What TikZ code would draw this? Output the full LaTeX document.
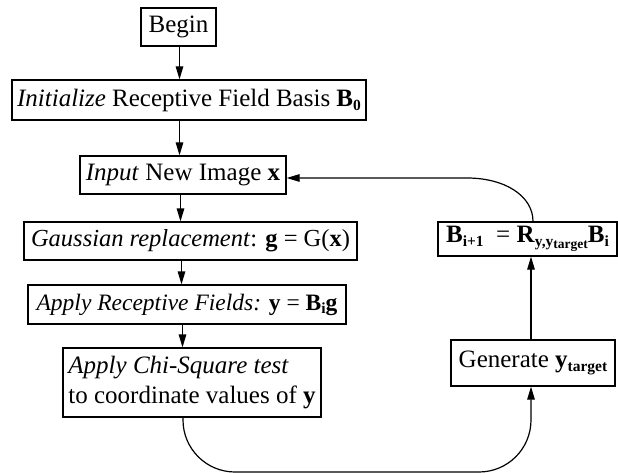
\documentclass[tikz,border=0pt]{standalone}
\usepackage{fontspec}
\setmainfont{Liberation Serif}
\usetikzlibrary{arrows.meta}
\newcommand{\lowsub}[1]{\raisebox{-0.35ex}{\fontsize{15.5}{15.5}\selectfont\bfseries #1}}
\newcommand{\lowsubb}[1]{\raisebox{-0.3ex}{\fontsize{13.5}{13.5}\selectfont\bfseries #1}}
\begin{document}
\begin{tikzpicture}[x=1pt,y=-1pt,
  box/.style={draw, line width=1.2pt, inner sep=0pt, align=center, font=\fontsize{25}{28}\selectfont},
  arr/.style={line width=1.2pt, -{Triangle[length=13pt,width=7.5pt]}}]
\useasboundingbox (0,0) rectangle (618,473);
\node[box, minimum width=75pt, minimum height=38pt] (begin) at (178.5,27) {Begin};
\node[box, minimum width=354pt, minimum height=40pt] (init) at (189,100) {\textit{Initialize} Receptive Field Basis \textbf{B}\lowsub{0}};
\node[box, minimum width=206pt, minimum height=38pt] (input) at (183,175) {\textit{Input} New Image \textbf{x}};
\node[box, minimum width=333pt, minimum height=38pt, font=\fontsize{24.5}{28}\selectfont] (gauss) at (190.5,241) {\textit{Gaussian replacement}: \textbf{g} = G(\textbf{x})};
\node[box, minimum width=318pt, minimum height=39pt, font=\fontsize{23.5}{28}\selectfont] (apply) at (187,304.5) {\textit{Apply Receptive Fields:} \textbf{y} = \textbf{B}\lowsub{i}\textbf{g}};
\node[box, minimum width=258pt, minimum height=69pt, align=left, font=\fontsize{25}{30}\selectfont] (chi) at (192,382.5) {\textit{Apply Chi-Square test}\\to coordinate values of \textbf{y}};
\node[box, minimum width=179pt, minimum height=34pt] (upd) at (527.5,239) {\textbf{B}\lowsub{i+1}\ \ = \textbf{R}\lowsub{y,y\lowsubb{target}}\textbf{B}\lowsub{i}};
\node[box, minimum width=164pt, minimum height=46pt] (gen) at (533,363) {Generate \textbf{y}\lowsub{target}};

\draw[arr] (begin.south -| 179.5,0) -- (179.5,0 |- init.north);
\draw[arr] (init.south -| 179.5,0) -- (179.5,0 |- input.north);
\draw[arr] (input.south -| 180.5,0) -- (180.5,0 |- gauss.north);
\draw[arr] (gauss.south -| 181.5,0) -- (181.5,0 |- apply.north);
\draw[arr] (apply.south -| 182.5,0) -- (182.5,0 |- chi.north);
\coordinate (cb) at (chi.south -| 183,0);
\coordinate (gb) at (gen.south -| 531,0);
\draw[arr, rounded corners=52pt] (cb) -- (183,472) -- (531,472) -- (gb);
\draw[arr] (gen.north -| 531,0) -- (531,0 |- upd.south);
\coordinate (ut) at (upd.north -| 533,0);
\draw[arr] (ut) .. controls (533,196) and (505,178) .. (467,178) -- (input.east |- 0,178);
\end{tikzpicture}
\end{document}
